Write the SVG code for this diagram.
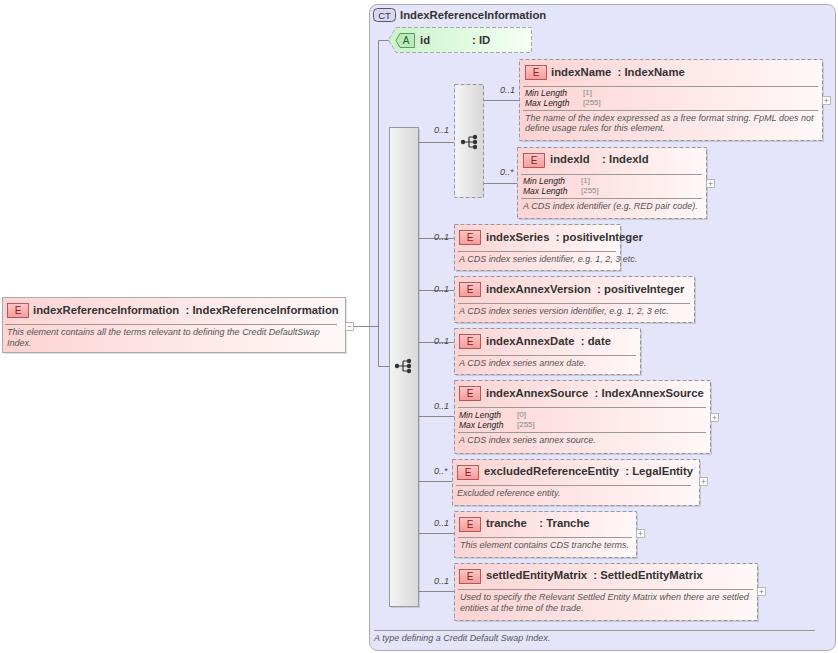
<svg xmlns="http://www.w3.org/2000/svg" width="838" height="653" viewBox="0 0 838 653">
<defs>
<linearGradient id="pink" x1="0" y1="0" x2="1" y2="0"><stop offset="0" stop-color="#fdd3d3"/><stop offset="1" stop-color="#fff8f8"/></linearGradient>
<linearGradient id="green" x1="0" y1="0" x2="1" y2="0"><stop offset="0" stop-color="#c8f5c8"/><stop offset="1" stop-color="#f6fff6"/></linearGradient>
<linearGradient id="gray" x1="0" y1="0" x2="1" y2="0"><stop offset="0" stop-color="#f4f4f4"/><stop offset="1" stop-color="#d8d8d8"/></linearGradient>
<linearGradient id="badge" x1="0" y1="0" x2="0" y2="1"><stop offset="0" stop-color="#ffc8c8"/><stop offset="1" stop-color="#f59a9a"/></linearGradient>
<g id="seqicon"><circle cx="-8" cy="0" r="2.2" fill="#333"/><path d="M-6 0H-2M-2 -5V5M-2 -5H3M-2 0H3M-2 5H3" stroke="#333" fill="none" stroke-width="1.2"/><circle cx="4" cy="-5" r="2.2" fill="#333"/><circle cx="4" cy="0" r="2.2" fill="#333"/><circle cx="4" cy="5" r="2.2" fill="#333"/></g>
<g id="plus"><rect x="0" y="0" width="8" height="8" fill="#fff" stroke="#aaa" stroke-width="0.8"/><path d="M2 4H6M4 2V6" stroke="#999" stroke-width="0.8"/></g>
</defs>
<style>
text{white-space:pre}
.el{fill:url(#pink);stroke:#999;stroke-dasharray:4 2;stroke-width:1}
.sh{fill:#000;opacity:0.12}
.bd{fill:url(#badge);stroke:#a04040;stroke-width:0.8}
.bt{font-family:"Liberation Sans",Arial,sans-serif;font-size:10px;fill:#8a2020;text-anchor:middle}
.t{font-family:"Liberation Sans",Arial,sans-serif;font-size:11.3px;font-weight:bold;fill:#333}
.d{font-family:"Liberation Sans",Arial,sans-serif;font-size:9px;font-style:italic;fill:#555}
.f{font-family:"Liberation Sans",Arial,sans-serif;font-size:8.5px;font-style:italic;fill:#222}
.v{font-family:"Liberation Sans",Arial,sans-serif;font-size:8px;fill:#888}
.c{font-family:"Liberation Sans",Arial,sans-serif;font-size:9px;font-style:italic;fill:#444}
.sep{stroke:#999;stroke-width:1}
.ln{stroke:#888;stroke-width:1;fill:none}
</style>
<g id="ct">
<rect x="369.5" y="4.5" width="466" height="646" rx="8" fill="#e4e4fa" stroke="#aaa"/>
<rect x="373.5" y="8.5" width="22" height="13" rx="4" fill="#d8d8f4" stroke="#556"/>
<text x="384.5" y="18.5" style="font-family:'Liberation Sans',Arial,sans-serif;font-size:9.5px;fill:#334;text-anchor:middle">CT</text>
<text x="400" y="18.5" class="t">IndexReferenceInformation</text>
<line x1="374" y1="630.5" x2="815" y2="630.5" class="sep"/>
<text x="374" y="641" class="d">A type defining a Credit Default Swap Index.</text>
</g>
<g id="connectors">
<path class="ln" d="M393 40.5H378.5V366.5H389M345 326.5H378.5"/>
<path class="ln" d="M418 142.5H454M483 100.5H519M483 183.5H517M418 238.5H454M418 290.5H454M418 342.5H454M418 416.5H454M418 481.5H452M418 533.5H454M418 591.5H454"/>
<text x="434" y="133" class="c">0..1</text>
<text x="500" y="93" class="c">0..1</text>
<text x="500" y="175" class="c">0..*</text>
<text x="434" y="240" class="c">0..1</text>
<text x="434" y="292" class="c">0..1</text>
<text x="434" y="344" class="c">0..1</text>
<text x="434" y="409" class="c">0..1</text>
<text x="434" y="474" class="c">0..*</text>
<text x="434" y="526" class="c">0..1</text>
<text x="434" y="584" class="c">0..1</text>
</g>
<g id="main">
<rect x="4" y="299" width="343" height="55" class="sh"/>
<rect x="2.5" y="297.5" width="343" height="55" fill="url(#pink)" stroke="#aaa"/>
<rect x="7.5" y="303.5" width="21" height="14" class="bd"/><text x="18" y="314" class="bt">E</text>
<text x="33" y="314" class="t">indexReferenceInformation  : IndexReferenceInformation</text>
<line x1="5" y1="324.5" x2="337" y2="324.5" class="sep"/>
<text x="7" y="335" class="d">This element contains all the terms relevant to defining the Credit DefaultSwap</text>
<text x="7" y="346" class="d">Index.</text>
<rect x="345.5" y="322.5" width="8" height="8" fill="#fff" stroke="#aaa" stroke-width="0.8"/><path d="M347.5 326.5H351.5" stroke="#999" stroke-width="0.8"/>
</g>
<g id="attr-id">
<polygon points="396,27.5 531.5,27.5 531.5,52.5 396,52.5 388.5,40" fill="url(#green)" stroke="#aaa" stroke-dasharray="4 2"/>
<polygon points="400,33.5 414.5,33.5 414.5,47.5 400,47.5 396,40.5" fill="#b8ecb8" stroke="#4a7a4a" stroke-width="0.8"/>
<text x="406" y="44" style="font-family:'Liberation Sans',Arial,sans-serif;font-size:10px;fill:#2a5a2a;text-anchor:middle">A</text>
<text x="420" y="43.5" class="t">id</text><text x="472" y="43.5" class="t">: ID</text>
</g>
<g id="sequence">
<rect x="391" y="129" width="29" height="479" class="sh"/>
<rect x="389.5" y="127.5" width="29" height="479" fill="url(#gray)" stroke="#999"/>
<use href="#seqicon" x="405" y="366"/>
</g>
<g id="choice">
<rect x="454.5" y="84.5" width="29" height="113" fill="url(#gray)" stroke="#999" stroke-dasharray="4 2"/>
<use href="#seqicon" x="471" y="142"/>
</g>
<g id="indexName">
<rect x="521" y="61" width="303" height="81" class="sh"/>
<rect x="519.5" y="59.5" width="303" height="81" class="el"/>
<rect x="525.5" y="65.5" width="21" height="14" class="bd"/><text x="536" y="76" class="bt">E</text>
<text x="551" y="75.5" class="t">indexName  : IndexName</text>
<line x1="523" y1="86.5" x2="818" y2="86.5" class="sep"/>
<text x="525" y="96" class="f">Min Length</text><text x="583" y="95" class="v">[1]</text>
<text x="525" y="106" class="f">Max Length</text><text x="583" y="105" class="v">[255]</text>
<line x1="523" y1="110.5" x2="818" y2="110.5" class="sep"/>
<text x="525" y="121" class="d">The name of the index expressed as a free format string. FpML does not</text>
<text x="525" y="131" class="d">define usage rules for this element.</text>
<use href="#plus" x="822.5" y="96.5"/>
</g>
<g id="indexId">
<rect x="519" y="149" width="189" height="71" class="sh"/>
<rect x="517.5" y="147.5" width="189" height="71" class="el"/>
<rect x="523.5" y="153.5" width="21" height="14" class="bd"/><text x="534" y="164" class="bt">E</text>
<text x="550" y="163" class="t">indexId    : IndexId</text>
<line x1="521" y1="174.5" x2="702" y2="174.5" class="sep"/>
<text x="523" y="184" class="f">Min Length</text><text x="581" y="183" class="v">[1]</text>
<text x="523" y="194" class="f">Max Length</text><text x="581" y="193" class="v">[255]</text>
<line x1="521" y1="198.5" x2="702" y2="198.5" class="sep"/>
<text x="523" y="209" class="d">A CDS index identifier (e.g. RED pair code).</text>
<use href="#plus" x="706.5" y="179.5"/>
</g>
<g id="indexSeries">
<rect x="456" y="226" width="166" height="46" class="sh"/>
<rect x="454.5" y="224.5" width="166" height="46" class="el"/>
<rect x="459.5" y="230.5" width="21" height="14" class="bd"/><text x="470" y="241" class="bt">E</text>
<text x="486" y="241" class="t">indexSeries  : positiveInteger</text>
<line x1="458" y1="251.5" x2="616" y2="251.5" class="sep"/>
<text x="459" y="262" class="d">A CDS index series identifier, e.g. 1, 2, 3 etc.</text>
</g>
<g id="indexAnnexVersion">
<rect x="456" y="278" width="240" height="46" class="sh"/>
<rect x="454.5" y="276.5" width="240" height="46" class="el"/>
<rect x="459.5" y="282.5" width="21" height="14" class="bd"/><text x="470" y="293" class="bt">E</text>
<text x="486" y="293" class="t">indexAnnexVersion  : positiveInteger</text>
<line x1="458" y1="303.5" x2="690" y2="303.5" class="sep"/>
<text x="459" y="314" class="d">A CDS index series version identifier, e.g. 1, 2, 3 etc.</text>
</g>
<g id="indexAnnexDate">
<rect x="456" y="330" width="186" height="46" class="sh"/>
<rect x="454.5" y="328.5" width="186" height="46" class="el"/>
<rect x="459.5" y="334.5" width="21" height="14" class="bd"/><text x="470" y="345" class="bt">E</text>
<text x="486" y="345" class="t">indexAnnexDate  : date</text>
<line x1="458" y1="355.5" x2="636" y2="355.5" class="sep"/>
<text x="459" y="366" class="d">A CDS index series annex date.</text>
</g>
<g id="indexAnnexSource">
<rect x="456" y="382" width="256" height="73" class="sh"/>
<rect x="454.5" y="380.5" width="256" height="73" class="el"/>
<rect x="459.5" y="386.5" width="21" height="14" class="bd"/><text x="470" y="397" class="bt">E</text>
<text x="486" y="396.5" class="t">indexAnnexSource  : IndexAnnexSource</text>
<line x1="458" y1="407.5" x2="706" y2="407.5" class="sep"/>
<text x="459" y="418" class="f">Min Length</text><text x="517" y="417" class="v">[0]</text>
<text x="459" y="428" class="f">Max Length</text><text x="517" y="427" class="v">[255]</text>
<line x1="458" y1="432.5" x2="706" y2="432.5" class="sep"/>
<text x="459" y="443" class="d">A CDS index series annex source.</text>
<use href="#plus" x="710.5" y="413.5"/>
</g>
<g id="excludedReferenceEntity">
<rect x="454" y="461" width="247" height="46" class="sh"/>
<rect x="452.5" y="459.5" width="247" height="46" class="el"/>
<rect x="457.5" y="465.5" width="21" height="14" class="bd"/><text x="468" y="476" class="bt">E</text>
<text x="484" y="474.5" class="t">excludedReferenceEntity  : LegalEntity</text>
<line x1="456" y1="485.5" x2="691" y2="485.5" class="sep"/>
<text x="457" y="496" class="d">Excluded reference entity.</text>
<use href="#plus" x="699.5" y="477.5"/>
</g>
<g id="tranche">
<rect x="456" y="513" width="182" height="46" class="sh"/>
<rect x="454.5" y="511.5" width="182" height="46" class="el"/>
<rect x="459.5" y="517.5" width="21" height="14" class="bd"/><text x="470" y="528" class="bt">E</text>
<text x="486" y="526.5" class="t">tranche    : Tranche</text>
<line x1="458" y1="537.5" x2="632" y2="537.5" class="sep"/>
<text x="460" y="548" class="d">This element contains CDS tranche terms.</text>
<use href="#plus" x="636.5" y="529.5"/>
</g>
<g id="settledEntityMatrix">
<rect x="456" y="565" width="303" height="57" class="sh"/>
<rect x="454.5" y="563.5" width="303" height="57" class="el"/>
<rect x="459.5" y="569.5" width="21" height="14" class="bd"/><text x="470" y="580" class="bt">E</text>
<text x="486" y="578.5" class="t">settledEntityMatrix  : SettledEntityMatrix</text>
<line x1="458" y1="589.5" x2="753" y2="589.5" class="sep"/>
<text x="460" y="600" class="d">Used to specify the Relevant Settled Entity Matrix when there are settled</text>
<text x="460" y="611" class="d">entities at the time of the trade.</text>
<use href="#plus" x="757.5" y="587.5"/>
</g>
</svg>
